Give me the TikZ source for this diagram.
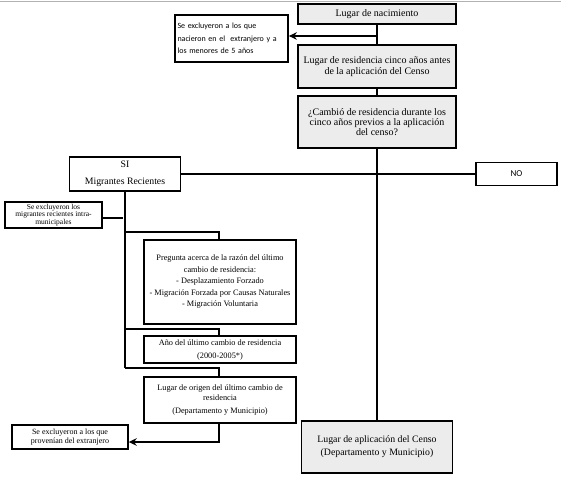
\documentclass[tikz,border=0pt]{standalone}
\usepackage{fontspec}
\setmainfont{Liberation Serif}
\newfontfamily\carl{Carlito}
\usetikzlibrary{arrows.meta}
\begin{document}
\begin{tikzpicture}[x=1pt,y=-1pt,
  box/.style={draw, line width=1.4pt, inner sep=1pt, align=center},
  gbox/.style={box, fill=gray!15},
  conn/.style={line width=1.4pt},
  arr/.style={conn, -{Stealth[length=8pt,width=7.5pt]}},
  big/.style={font=\fontsize{10}{10.4}\selectfont},
  mid/.style={font=\fontsize{8.3}{11.5}\selectfont},
  smallsans/.style={font=\carl\fontsize{8}{12.3}\selectfont}]
\useasboundingbox (0,0) rectangle (561,478);
\draw[gray!60, line width=0.8pt] (0,1.5) -- (561,1.5);

% main column
\node[gbox, big, minimum width=158pt, minimum height=20pt] (nac) at (377,14) {Lugar de nacimiento};
\node[gbox, big, minimum width=158pt, minimum height=43pt] (res) at (377,66.5) {Lugar de residencia cinco años antes\\de la aplicación del Censo};
\node[gbox, big, minimum width=158pt, minimum height=52pt] (camb) at (377,122) {¿Cambió de residencia durante los\\cinco años previos a la aplicación\\del censo?};
\node[gbox, big, minimum width=151pt, minimum height=52pt, font=\fontsize{9.8}{13}\selectfont] (apl) at (377,447) {Lugar de aplicación del Censo\\(Departamento y Municipio)};

% top exclusion
\node[box, smallsans, align=left, minimum width=113pt, minimum height=47pt, text width=108pt, line width=1.7pt] (exc1) at (231.5,38.5) {Se excluyeron a los que\\nacieron en el\ \ extranjero y a\\los menores de 5 años};

% SI / NO
\node[box, font=\fontsize{9.8}{17.5}\selectfont, minimum width=111pt, minimum height=34pt] (si) at (125,174) {SI\\Migrantes Recientes};
\node[box, font=\carl\fontsize{9}{10}\selectfont, minimum width=81pt, minimum height=23pt] (no) at (516.5,174) {NO};

% left exclusions
\node[box, font=\fontsize{7.5}{7.8}\selectfont, minimum width=97pt, minimum height=26pt] (intra) at (53.5,215) {Se excluyeron los\\migrantes recientes intra-\\municipales};
\node[box, font=\fontsize{8}{9.5}\selectfont, minimum width=116pt, minimum height=24pt] (exc2) at (70,437) {Se excluyeron a los que\\provenían del extranjero};

% branch boxes
\node[box, mid, minimum width=152pt, minimum height=84pt] (preg) at (220,282) {Pregunta acerca de la razón del último\\cambio de residencia:\\- Desplazamiento Forzado\\- Migración Forzada por Causas Naturales\\- Migración Voluntaria};
\node[box, font=\fontsize{8.3}{13}\selectfont, minimum width=152pt, minimum height=27pt] (ano) at (220,349.5) {Año del último cambio de\ residencia\\(2000-2005*)};
\node[box, font=\fontsize{8.3}{10.5}\selectfont, minimum width=152pt, minimum height=46pt] (orig) at (220,400) {Lugar de origen del último cambio de\\residencia\\[2pt](Departamento y Municipio)};

% connectors main column
\draw[conn] (nac) -- (res);
\draw[arr] ([yshift=2.5pt]exc1.east -| nac.south) -- ([yshift=2.5pt]exc1.east);
\draw[conn] (res) -- (camb);
\draw[conn] (camb) -- (apl);
\draw[conn] (si.east) -- (no.west);

% spine
\coordinate (sp1) at (125,232);
\coordinate (sp2) at (125,329);
\coordinate (sp3) at (125,368);
\draw[conn] (si.south) -- (sp3);
\draw[conn] (intra.east) ++(0,3) -- ++(20.5,0);
\draw[conn] (sp1) -| ([xshift=-1pt]preg.north);
\draw[conn] (sp2) -| ([xshift=-1pt]ano.north);
\draw[conn] (sp3) -| ([xshift=-1pt]orig.north);
\draw[arr] ([xshift=-1pt]orig.south) |- ([yshift=-5pt]exc2.east);
\end{tikzpicture}
\end{document}
